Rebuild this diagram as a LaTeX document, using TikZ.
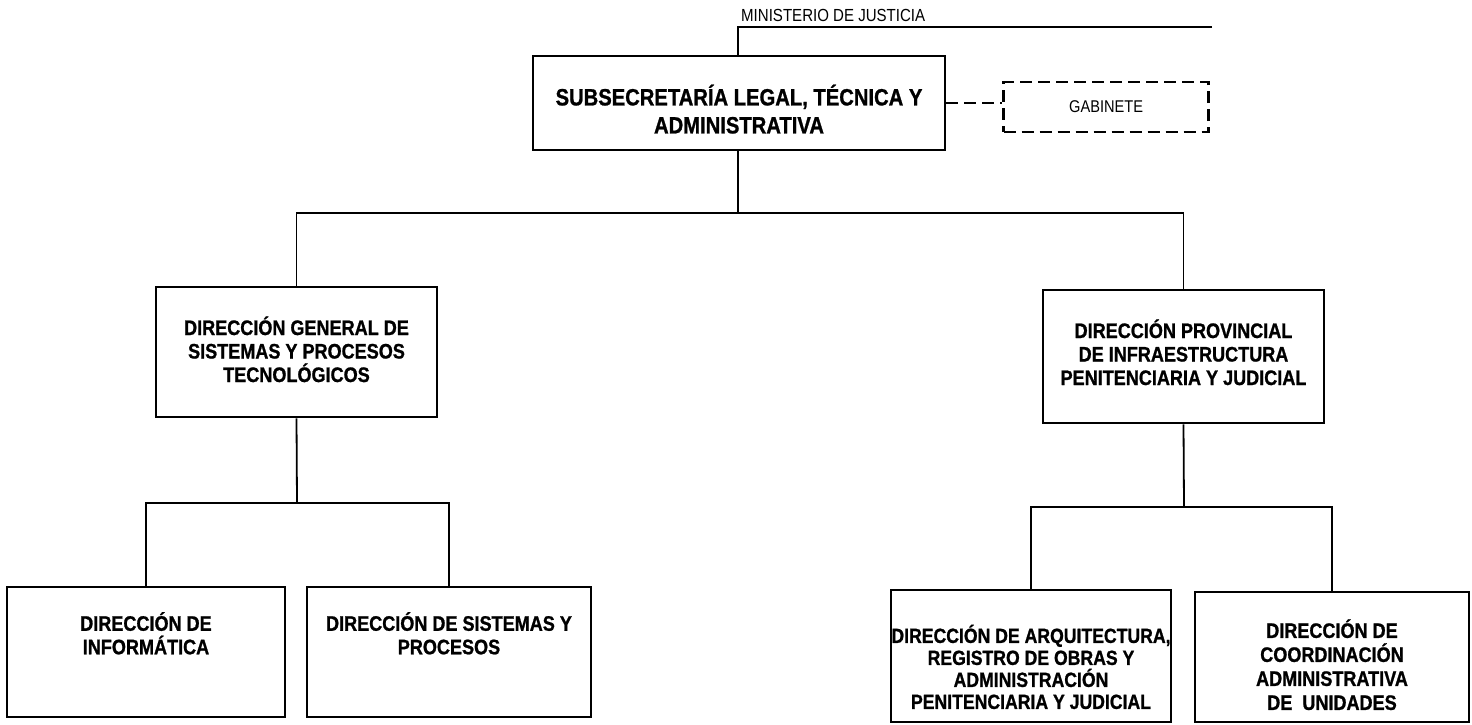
\documentclass[tikz,border=0pt]{standalone}
\usepackage{fontspec}
\setmainfont{Liberation Sans}[FakeStretch=0.86, BoldFeatures={FakeBold=1}]
\usepackage{tikz}
\usetikzlibrary{positioning}

\begin{document}
\begin{tikzpicture}[
  x=1pt, y=-1pt,
  box/.style={draw, line width=2.7pt, align=center, inner sep=0pt, font=\fontsize{21}{23.5}\selectfont\bfseries},
  link/.style={line width=1.8pt},
  dashlink/.style={line width=2.5pt, dash pattern=on 12pt off 6pt},
  smalltext/.style={font=\fontsize{17.5}{20}\selectfont, inner sep=0pt}
]
  \useasboundingbox (0,0) rectangle (1472,724);

  % Ministerio
  \coordinate (top) at (738,27);
  \coordinate (topend) at (1212,27);
  \node[smalltext, anchor=base west] (mintxt) at (741,21) {MINISTERIO DE JUSTICIA};

  % Subsecretaria and gabinete
  \node[box, minimum width=412pt, minimum height=94pt, font=\fontsize{23.5}{28}\selectfont\bfseries] (sub) at (739,103)
    {\rule{0pt}{33pt}SUBSECRETARÍA LEGAL, TÉCNICA Y\\ADMINISTRATIVA};
  \node[box, dashlink, minimum width=205pt, minimum height=50pt, font=\fontsize{17}{20}\selectfont, right=56pt of sub, yshift=-4pt] (gab) {GABINETE};

  \draw[link] (topend) -- (top) -- (top |- sub.north);
  \draw[dashlink] (sub.east) -- (sub.east -| gab.west);

  % Direcciones
  \node[box, minimum width=281pt, minimum height=130pt] (dgs) at (296.5,352)
    {\rule{0pt}{21pt}DIRECCIÓN GENERAL DE\\SISTEMAS Y PROCESOS\\TECNOLÓGICOS\rule[-8pt]{0pt}{8pt}};
  \node[box, minimum width=281pt, minimum height=133pt] (dpi) at (1183.5,356.5)
    {\rule{0pt}{21pt}DIRECCIÓN PROVINCIAL\\DE INFRAESTRUCTURA\\PENITENCIARIA Y JUDICIAL\rule[-11pt]{0pt}{11pt}};

  \coordinate (bus1) at (738,213);
  \draw[link] (bus1 |- sub.south) -- (bus1);
  \draw[link] (dgs.north) |- (bus1) -| (dpi.north);

  % Left branch
  \node[box, minimum width=278pt, minimum height=130pt] (inf) at (146,652)
    {\rule{0pt}{21pt}DIRECCIÓN DE\\INFORMÁTICA\rule[-40pt]{0pt}{40pt}};
  \node[box, minimum width=284pt, minimum height=130pt] (sis) at (449,652)
    {\rule{0pt}{21pt}DIRECCIÓN DE SISTEMAS Y\\PROCESOS\rule[-40pt]{0pt}{40pt}};

  \coordinate (bus2) at (297,503);
  \draw[link] (dgs.south) -- (bus2);
  \draw[link] (inf.north) |- (bus2) -| (sis.north);

  % Right branch
  \node[box, minimum width=280pt, minimum height=132pt, font=\fontsize{20.5}{22}\selectfont\bfseries] (arq) at (1031,656)
    {\rule{0pt}{40pt}DIRECCIÓN DE ARQUITECTURA,\\REGISTRO DE OBRAS Y\\ADMINISTRACIÓN\\PENITENCIARIA Y JUDICIAL};
  \node[box, minimum width=274pt, minimum height=130pt, font=\fontsize{21}{24}\selectfont\bfseries] (cor) at (1332,657)
    {\rule{0pt}{34pt}DIRECCIÓN DE\\COORDINACIÓN\\ADMINISTRATIVA\\DE~~UNIDADES};

  \coordinate (bus3) at (1184,507);
  \draw[link] (dpi.south) -- (bus3);
  \draw[link] (arq.north) |- (bus3) -| (cor.north);
\end{tikzpicture}
\end{document}
